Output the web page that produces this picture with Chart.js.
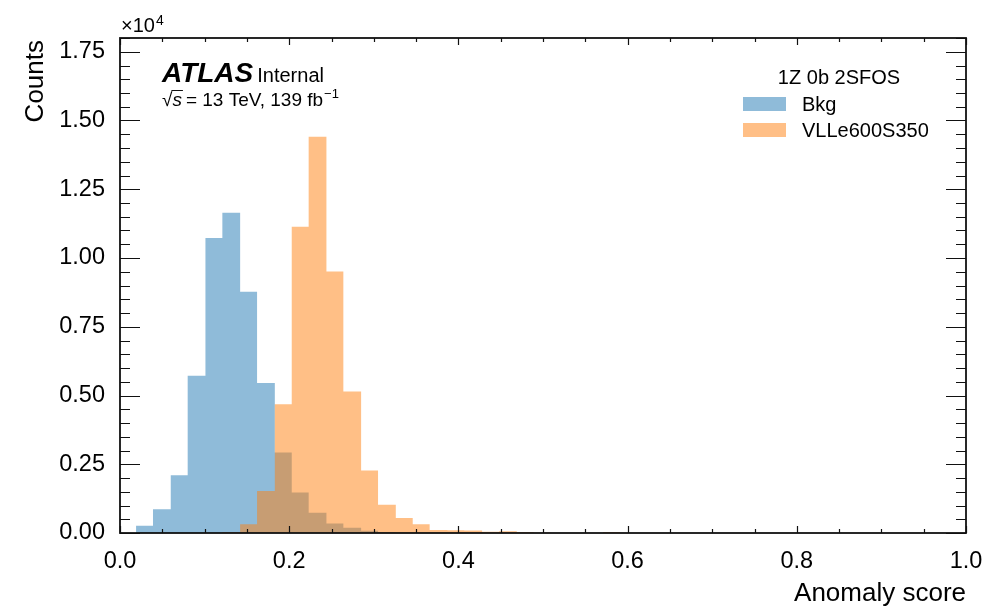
<!DOCTYPE html>
<html>
<head>
<meta charset="utf-8">
<script src="https://cdn.jsdelivr.net/npm/chart.js@4.4.1/dist/chart.umd.min.js"></script>
<style>
  html, body { margin: 0; padding: 0; background: #fff; }
  #wrap { width: 1004px; height: 611px; }
</style>
</head>
<body>
<div id="wrap"><canvas id="histChart" width="1004" height="611"></canvas></div>
<script>
// bin edges of the anomaly score histogram
const binEdges = [0.019, 0.039, 0.060, 0.080, 0.101, 0.121, 0.142, 0.162, 0.183, 0.203,
    0.223, 0.244, 0.264, 0.285, 0.305, 0.326, 0.346, 0.366, 0.387, 0.407,
    0.428, 0.448, 0.469, 0.489, 0.510, 0.530, 0.550, 0.571, 0.591, 0.612,
    0.632, 0.653, 0.673, 0.693, 0.714, 0.734, 0.755, 0.775, 0.796, 0.816,
    0.837, 0.857, 0.877, 0.898, 0.918, 0.939, 0.959, 0.980, 1.000];

const bkgCounts = [260, 865, 2100, 5720, 10730, 11650, 8770, 5455, 2930, 1475,
    740, 350, 190, 85, 35, 15, 8, 4, 0, 0,
    0, 0, 0, 0, 0, 0, 0, 0, 0, 0,
    0, 0, 0, 0, 0, 0, 0, 0, 0, 0,
    0, 0, 0, 0, 0, 0, 0, 0];

const sigCounts = [0, 0, 0, 0, 0, 40, 320, 1530, 4680, 11140,
    14410, 9510, 5150, 2270, 1030, 550, 315, 110, 100, 95,
    45, 65, 40, 8, 0, 0, 0, 35, 0, 0,
    0, 0, 0, 0, 0, 0, 0, 0, 0, 0,
    0, 0, 0, 0, 0, 0, 0, 0];

const seriesNames = ['Bkg', 'VLLe600S350'];
const legendTitle = '1Z 0b 2SFOS';
const xTicks = [0, 0.2, 0.4, 0.6, 0.8, 1.0];
const yTicks = [0, 2500, 5000, 7500, 10000, 12500, 15000, 17500];

const FONT = "'Liberation Sans', Arial, Helvetica, sans-serif";
const blueFill = 'rgba(31, 119, 180, 0.5)';
const orangeFill = 'rgba(255, 127, 14, 0.5)';

function toSteps(counts) {
    const pts = counts.map((c, i) => ({ x: binEdges[i], y: c }));
    pts.push({ x: binEdges[counts.length], y: 0 });
    return pts;
}

// ticks, frame and all the annotation text
const decorations = {
    id: 'decorations',
    afterDraw(chart) {
        const ctx = chart.ctx;
        const a = chart.chartArea;
        const xs = chart.scales.x;
        const ys = chart.scales.y;
        ctx.save();
        ctx.strokeStyle = '#111';
        ctx.lineWidth = 1.2;
        ctx.beginPath();
        // x ticks, bottom and top
        for (let k = 0; k <= 20; k++) {
            const v = k * 0.05;
            const px = Math.round(xs.getPixelForValue(v)) + 0.5;
            const len = (k % 4 === 0) ? 7 : 4;
            ctx.moveTo(px, a.bottom); ctx.lineTo(px, a.bottom - len);
            ctx.moveTo(px, a.top); ctx.lineTo(px, a.top + len);
        }
        // y ticks, left and right
        for (let k = 0; k <= 36; k++) {
            const v = k * 500;
            const py = Math.round(ys.getPixelForValue(v)) + 0.5;
            if (py < a.top) continue;
            const len = (k % 5 === 0) ? 20 : 10;
            ctx.moveTo(a.left, py); ctx.lineTo(a.left + len, py);
            ctx.moveTo(a.right, py); ctx.lineTo(a.right - len, py);
        }
        ctx.stroke();
        ctx.lineWidth = 1.8;
        ctx.strokeRect(a.left, a.top, a.right - a.left, a.bottom - a.top);

        ctx.fillStyle = '#000';
        ctx.textBaseline = 'alphabetic';

        // x10^4 multiplier
        ctx.textAlign = 'left';
        ctx.font = '20px ' + FONT;
        ctx.fillText('\u00d710', 121, 32);
        const mw = ctx.measureText('\u00d710').width;
        ctx.font = '14px ' + FONT;
        ctx.fillText('4', 121 + mw + 1, 25);

        // axis titles
        ctx.font = '26px ' + FONT;
        ctx.textAlign = 'right';
        ctx.fillText('Anomaly score', a.right, 601);
        ctx.save();
        ctx.translate(43, a.top + 2);
        ctx.rotate(-Math.PI / 2);
        ctx.textAlign = 'right';
        ctx.fillText('Counts', 0, 0);
        ctx.restore();

        // ATLAS label
        ctx.textAlign = 'left';
        ctx.font = 'italic bold 28px ' + FONT;
        ctx.fillText('ATLAS', 162, 82);
        let w = ctx.measureText('ATLAS').width;
        ctx.font = '20px ' + FONT;
        ctx.fillText('Internal', 162 + w + 4, 82);

        // sqrt(s) line
        let x = 162;
        const base = 106;
        ctx.font = '19px ' + FONT;
        ctx.fillText('\u221a', x, base);
        x += ctx.measureText('\u221a').width;
        ctx.font = 'italic 19px ' + FONT;
        const sw = ctx.measureText('s').width;
        ctx.fillText('s', x, base);
        ctx.lineWidth = 1;
        ctx.beginPath();
        ctx.moveTo(x - 1, base - 15.5); ctx.lineTo(x + sw + 1, base - 15.5);
        ctx.stroke();
        x += sw + 4;
        ctx.font = '19px ' + FONT;
        const rest = '= 13 TeV, 139 fb';
        ctx.fillText(rest, x, base);
        x += ctx.measureText(rest).width + 1;
        ctx.font = '13px ' + FONT;
        ctx.fillText('\u22121', x, base - 8);

        // legend
        ctx.font = '20px ' + FONT;
        ctx.textAlign = 'center';
        ctx.fillText(legendTitle, 839, 84);
        const fills = [blueFill, orangeFill];
        const rowsY = [97, 123];
        ctx.textAlign = 'left';
        seriesNames.forEach((name, i) => {
            ctx.fillStyle = fills[i];
            ctx.fillRect(743, rowsY[i], 43, 14);
            ctx.fillStyle = '#000';
            ctx.fillText(name, 802, rowsY[i] + 14);
        });
        ctx.restore();
    }
};

Chart.defaults.font.family = FONT;
Chart.defaults.color = '#000';

new Chart(document.getElementById('histChart'), {
    type: 'line',
    data: {
        datasets: [
            {
                label: seriesNames[0],
                data: toSteps(bkgCounts),
                stepped: 'before',
                fill: 'origin',
                backgroundColor: blueFill,
                borderWidth: 0,
                pointRadius: 0,
                order: 2
            },
            {
                label: seriesNames[1],
                data: toSteps(sigCounts),
                stepped: 'before',
                fill: 'origin',
                backgroundColor: orangeFill,
                borderWidth: 0,
                pointRadius: 0,
                order: 1
            }
        ]
    },
    options: {
        responsive: false,
        animation: false,
        layout: { padding: { top: 38, right: 38, left: 0, bottom: 0 } },
        plugins: {
            legend: { display: false },
            tooltip: { enabled: false }
        },
        scales: {
            x: {
                type: 'linear',
                min: 0,
                max: 1,
                grid: { display: false },
                border: { display: false },
                afterBuildTicks: (scale) => { scale.ticks = xTicks.map(v => ({ value: v })); },
                afterFit: (scale) => { scale.height = 78; },
                ticks: {
                    padding: 6,
                    font: { size: 23.5 },
                    maxRotation: 0,
                    callback: (v) => v.toFixed(1)
                }
            },
            y: {
                min: 0,
                max: 18000,
                grid: { display: false },
                border: { display: false },
                afterBuildTicks: (scale) => { scale.ticks = yTicks.map(v => ({ value: v })); },
                afterFit: (scale) => { scale.width = 120; },
                ticks: {
                    padding: 7,
                    font: { size: 23.5 },
                    callback: (v) => (v / 10000).toFixed(2)
                }
            }
        }
    },
    plugins: [decorations]
});
</script>
</body>
</html>
